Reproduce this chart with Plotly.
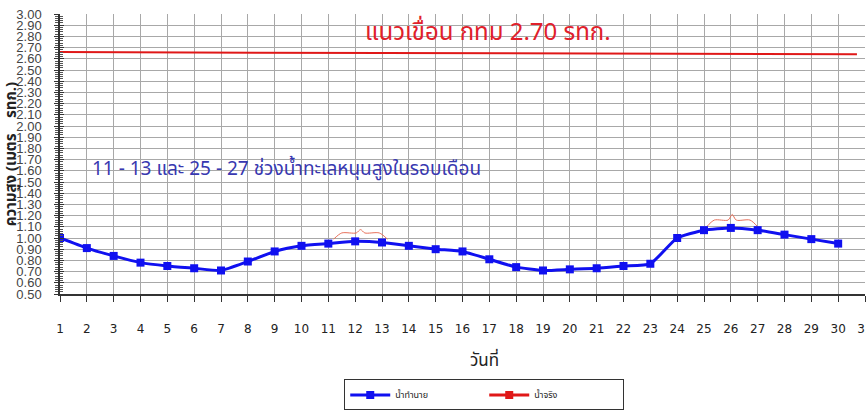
import plotly.graph_objects as go

days = list(range(1, 31))
predicted = [1.00, 0.91, 0.84, 0.78, 0.75, 0.73, 0.71, 0.79, 0.88, 0.93,
             0.95, 0.97, 0.96, 0.93, 0.90, 0.88, 0.81, 0.74, 0.71, 0.72,
             0.73, 0.75, 0.77, 1.00, 1.07, 1.09, 1.07, 1.03, 0.99, 0.95]
dam_x = [1, 30.7]
dam_y = [2.66, 2.64]
x_ticks = list(range(1, 32))
y_ticks = [round(0.5 + 0.1 * i, 2) for i in range(26)]
# spring-tide braces: (start day, end day, end level, shoulder level, peak level)
braces = [(11.2, 13.2, 0.99, 1.045, 1.075), (25.1, 27.0, 1.10, 1.16, 1.21)]

BLUE = "#1010f0"
RED = "#e01818"
THAI = "Noto Sans Thai, Tahoma, Loma, Garuda, Noto Sans, DejaVu Sans, sans-serif"

fig = go.Figure()

fig.add_trace(go.Scatter(x=dam_x, y=dam_y, mode="lines",
                         line=dict(color=RED, width=2), showlegend=False,
                         hoverinfo="skip"))

for (a, b, ye, ys, yp) in braces:
    w = b - a
    m = (a + b) / 2
    bx = [a, a + 0.15 * w, m - 0.08 * w, m, m + 0.08 * w, b - 0.15 * w, b]
    by = [ye, ys, ys, yp, ys, ys, ye]
    fig.add_trace(go.Scatter(x=bx, y=by, mode="lines",
                             line=dict(color="#e8705a", width=1, shape="spline", smoothing=0.8),
                             showlegend=False, hoverinfo="skip"))

fig.add_trace(go.Scatter(x=days, y=predicted, mode="lines+markers", name="น้ำทำนาย",
                         line=dict(color=BLUE, width=3, shape="spline", smoothing=0.5),
                         marker=dict(symbol="square", size=8, color=BLUE)))
fig.add_trace(go.Scatter(x=[None], y=[None], mode="lines+markers", name="น้ำจริง",
                         line=dict(color=RED, width=3),
                         marker=dict(symbol="square", size=8, color=RED)))

fig.update_layout(
    width=866, height=411,
    margin=dict(l=60, r=1, t=14, b=117, autoexpand=False),
    paper_bgcolor="white", plot_bgcolor="white",
    showlegend=True,
    legend=dict(orientation="h", x=0.527, xanchor="center", y=-0.305, yanchor="top",
                bgcolor="white", bordercolor="#333333", borderwidth=1,
                font=dict(family=THAI, size=9, color="#222222"),
                entrywidth=84, itemwidth=40, tracegroupgap=0),
    xaxis=dict(range=[1, 31], tickvals=x_ticks, ticktext=[str(v) for v in x_ticks],
               showgrid=True, gridcolor="#a8a8a8", gridwidth=1,
               showline=True, linecolor="#333333", linewidth=1.5, mirror=False,
               ticks="outside", ticklen=6, tickcolor="#333333",
               ticklabelstandoff=17, ticklabeloverflow="allow",
               tickfont=dict(family="DejaVu Sans, Verdana, sans-serif", size=12, color="#222222"),
               zeroline=False),
    yaxis=dict(range=[0.5, 3.0], tickvals=y_ticks, ticktext=[f"{v:.2f}" for v in y_ticks],
               showgrid=True, gridcolor="#a8a8a8", gridwidth=1,
               showline=True, linecolor="#333333", linewidth=1.5,
               ticks="outside", ticklen=4, tickcolor="#333333",
               minor=dict(dtick=0.02, ticks="outside", ticklen=3, tickcolor="#555555", showgrid=False),
               ticklabelstandoff=10,
               tickfont=dict(family="Liberation Sans Narrow, Arial Narrow, Liberation Sans, sans-serif",
                             size=13, color="#444444"),
               zeroline=False,
               title=dict(text="<b>ความสูง (เมตร    รทก.)</b>", standoff=2,
                          font=dict(family=THAI, size=15, color="#222222"))),
    yaxis2=dict(range=[0.5, 3.0], overlaying="y", side="left", showgrid=False,
                tickvals=y_ticks, showticklabels=False, ticks="inside", ticklen=4,
                tickcolor="#333333",
                minor=dict(dtick=0.02, ticks="inside", ticklen=3, tickcolor="#555555"),
                zeroline=False, showline=False),
    annotations=[
        dict(text="แนวเขื่อน กทม 2.70 รทก.", x=16.95, y=2.83, xref="x", yref="y",
             showarrow=False, font=dict(family=THAI, size=24, color="#e0202a")),
        dict(text="11 - 13 และ 25 - 27 ช่วงน้ำทะเลหนุนสูงในรอบเดือน", x=2.1, y=1.61,
             xref="x", yref="y", xanchor="left", showarrow=False,
             font=dict(family=THAI, size=19, color="#3838b0")),
        dict(text="วันที่", x=0.527, y=-0.292, xref="paper", yref="paper",
             showarrow=False, font=dict(family=THAI, size=17, color="#222222")),
    ],
)
fig.add_trace(go.Scatter(x=[None], y=[None], yaxis="y2", showlegend=False, hoverinfo="skip"))

fig.write_html("out.html", config={"displayModeBar": False},
               post_script="document.body.style.margin='0';")
